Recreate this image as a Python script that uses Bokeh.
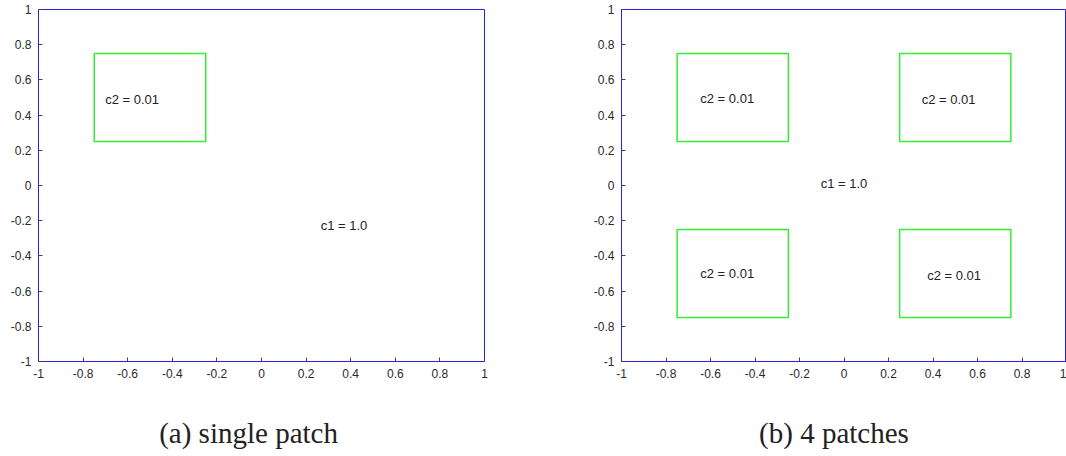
from bokeh.plotting import figure
from bokeh.models import Range1d, FixedTicker, LinearAxis
from bokeh.layouts import row
from bokeh.core.properties import value
from bokeh.embed import file_html
from bokeh.resources import INLINE

# ---- data ----
tick_values = [-1, -0.8, -0.6, -0.4, -0.2, 0, 0.2, 0.4, 0.6, 0.8, 1]
tick_labels = ["-1", "-0.8", "-0.6", "-0.4", "-0.2", "0", "0.2", "0.4", "0.6", "0.8", "1"]

# panel (a): single patch
a_patch_left = [-0.75]
a_patch_right = [-0.25]
a_patch_bottom = [0.25]
a_patch_top = [0.75]
a_label_x = [-0.58, 0.37]
a_label_y = [0.49, -0.23]
a_label_text = ["c2 = 0.01", "c1 = 1.0"]

# panel (b): 4 patches
b_patch_left = [-0.75, 0.25, -0.75, 0.25]
b_patch_right = [-0.25, 0.75, -0.25, 0.75]
b_patch_bottom = [0.25, 0.25, -0.75, -0.75]
b_patch_top = [0.75, 0.75, -0.25, -0.25]
b_label_x = [-0.525, 0.47, -0.525, 0.495, 0.0]
b_label_y = [0.495, 0.49, -0.5, -0.51, 0.01]
b_label_text = ["c2 = 0.01", "c2 = 0.01", "c2 = 0.01", "c2 = 0.01", "c1 = 1.0"]

captions = ["(a) single patch", "(b) 4 patches"]


def make_panel(width, border_right, left, right, bottom, top, lx, ly, lt, cap, capx):
    p = figure(width=width, height=456, output_backend="svg", toolbar_location=None,
               x_range=Range1d(-1, 1), y_range=Range1d(-1, 1),
               min_border_left=38, min_border_right=border_right,
               min_border_top=9, min_border_bottom=95)
    p.background_fill_color = "white"
    p.border_fill_color = "white"
    p.outline_line_color = "#2222ee"
    p.outline_line_width = 1
    p.xgrid.visible = False
    p.ygrid.visible = False
    for ax in (p.xaxis[0], p.yaxis[0]):
        ax.ticker = FixedTicker(ticks=tick_values)
        ax.major_label_overrides = dict(zip(tick_values, tick_labels))
        ax.axis_line_color = "#2222ee"
        ax.axis_line_width = 1
        ax.major_tick_in = 4
        ax.major_tick_out = 0
        ax.major_tick_line_color = "#444444"
        ax.minor_tick_line_color = None
        ax.major_label_text_font = "Liberation Sans"
        ax.major_label_text_font_size = "12px"
        ax.major_label_text_color = "#2a2a2a"
    p.xaxis.major_label_standoff = 7
    p.yaxis.major_label_standoff = 7

    p.quad(left=left, right=right, bottom=bottom, top=top,
           fill_alpha=0, line_color="#33ee33", line_width=1.5)
    p.text(x=lx, y=ly, text=lt, text_font=value("Liberation Sans"),
           text_font_size="13px", text_align="center", text_baseline="middle",
           text_color="#222222")

    # caption as a second, line-less axis below the first one
    cap_axis = LinearAxis(ticker=FixedTicker(ticks=[capx]),
                          major_label_overrides={capx: cap},
                          axis_line_color=None, major_tick_line_color=None,
                          minor_tick_line_color=None,
                          major_tick_in=0, major_tick_out=0,
                          minor_tick_in=0, minor_tick_out=0,
                          major_label_standoff=36,
                          major_label_text_font="Liberation Serif",
                          major_label_text_font_size="29px",
                          major_label_text_color="#222222")
    p.add_layout(cap_axis, "below")
    return p


p1 = make_panel(583, 99, a_patch_left, a_patch_right, a_patch_bottom, a_patch_top,
                a_label_x, a_label_y, a_label_text, captions[0], -0.058)
p2 = make_panel(483, 0, b_patch_left, b_patch_right, b_patch_bottom, b_patch_top,
                b_label_x, b_label_y, b_label_text, captions[1], -0.045)

layout = row(p1, p2, spacing=0)
open("out.html", "w").write(file_html(layout, INLINE))
